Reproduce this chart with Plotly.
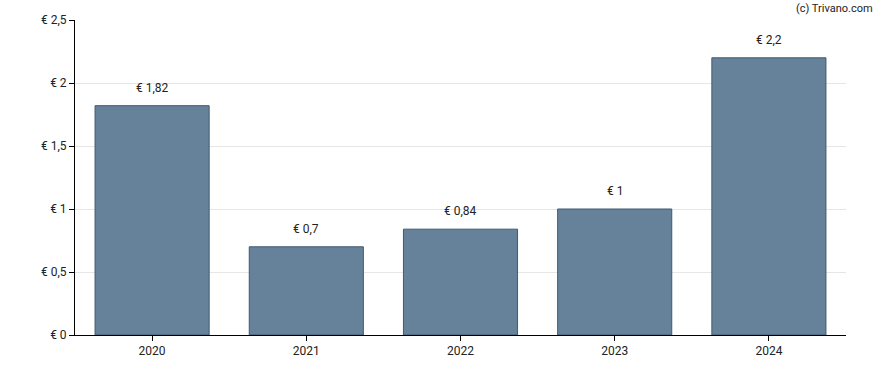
import plotly.graph_objects as go

years = ["2020", "2021", "2022", "2023", "2024"]
values = [1.82, 0.7, 0.84, 1.0, 2.2]
labels = ["€ 1,82", "€ 0,7", "€ 0,84", "€ 1", "€ 2,2"]
y_tickvals = [0, 0.5, 1, 1.5, 2, 2.5]
y_ticktext = ["€ 0", "€ 0,5", "€ 1", "€ 1,5", "€ 2", "€ 2,5"]

fig = go.Figure()
fig.add_trace(go.Bar(
    x=years, y=values, width=0.74,
    marker=dict(color="#66829a", line=dict(color="#3f5a70", width=1)),
    hoverinfo="skip",
))
for i, (v, t) in enumerate(zip(values, labels)):
    fig.add_annotation(x=i, y=v, xref="x", yref="y", text=t, showarrow=False,
                       yanchor="bottom", yshift=9,
                       font=dict(family="Roboto", size=12, color="#222"))
fig.add_annotation(xref="paper", yref="paper", x=1.0, y=1.0, xanchor="left",
                   yanchor="middle",
                   text="(c) Trivano.com", showarrow=False, xshift=-52, yshift=12,
                   font=dict(family="Roboto", size=11, color="#222"))

fig.update_layout(
    width=888, height=370,
    margin=dict(l=75, r=42, t=20, b=35),
    plot_bgcolor="white", paper_bgcolor="white",
    showlegend=False,
    font=dict(family="Roboto", size=12, color="#222"),
    xaxis=dict(type="category", categoryorder="array", categoryarray=years,
               automargin=False,
               showline=True, linecolor="black", linewidth=1,
               ticks="outside", ticklen=5, tickcolor="black", showgrid=False),
    yaxis=dict(range=[0, 2.5], tickvals=y_tickvals, ticktext=y_ticktext,
               automargin=False,
               showline=True, linecolor="black", linewidth=1, ticks="outside",
               ticklen=5, tickcolor="black", showgrid=True, gridcolor="#e6e6e6",
               zeroline=False),
)
fig.write_html("out.html", config={"displayModeBar": False, "staticPlot": True},
               post_script="document.body.style.margin='0';document.body.style.overflow='hidden';")
